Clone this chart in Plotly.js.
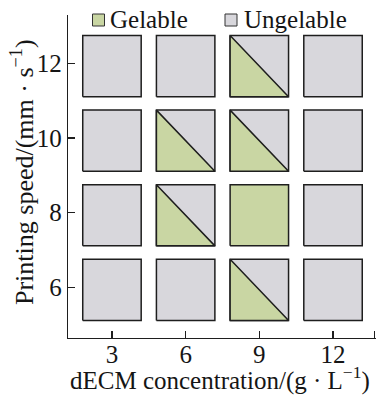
<!DOCTYPE html>
<html>
<head>
<meta charset="utf-8">
<script src="https://cdn.plot.ly/plotly-3.0.1.min.js"></script>
<style>html,body{margin:0;padding:0;background:#fff;}</style>
</head>
<body>
<div id="chart" style="width:376px;height:396px;"></div>
<script>
// ---- data ----
const concentrations = [3, 6, 9, 12];          // dECM concentration (g/L)
const speeds = [6, 8, 10, 12];                 // printing speed (mm/s)
// cell state per speed row, in concentration order: G = gelable, U = ungelable, P = partly gelable (split)
const speed6  = ['U', 'U', 'P', 'U'];
const speed8  = ['U', 'P', 'G', 'U'];
const speed10 = ['U', 'P', 'P', 'U'];
const speed12 = ['U', 'U', 'P', 'U'];
const xTickLabels = ['3', '6', '9', '12'];
const yTickLabels = ['6', '8', '10', '12'];
const legendLabels = ['Gelable', 'Ungelable'];
const xTitle = 'dECM concentration/(g · L<sup>−1</sup>)';
const yTitle = 'Printing speed/(mm · s<sup>−1</sup>)';

// ---- style ----
const GREEN = '#c9d6a3';
const GRAY = '#d8d7dc';
const EDGE = '#1e1e1e';
const FONT = 'Liberation Serif';
const TXT = '#151515';
const halfW = 1.19, halfH = 0.82, yShift = -0.07;

const rows = [speed6, speed8, speed10, speed12];
const traces = [];
rows.forEach((row, i) => {
  const s = speeds[i] + yShift;
  row.forEach((state, j) => {
    const c = concentrations[j];
    traces.push({
      type: 'scatter', mode: 'lines', fill: 'toself',
      x: [c - halfW, c + halfW, c + halfW, c - halfW, c - halfW],
      y: [s - halfH, s - halfH, s + halfH, s + halfH, s - halfH],
      fillcolor: state === 'G' ? GREEN : GRAY,
      line: {color: EDGE, width: 1.5},
      hoverinfo: 'skip', showlegend: false
    });
    if (state === 'P') {
      traces.push({
        type: 'scatter', mode: 'lines', fill: 'toself',
        x: [c - halfW, c - halfW, c + halfW, c - halfW],
        y: [s + halfH, s - halfH, s - halfH, s + halfH],
        fillcolor: GREEN,
        line: {color: EDGE, width: 1.5},
        hoverinfo: 'skip', showlegend: false
      });
    }
  });
});

const W = 376, H = 396, L = 68, R = 0, T = 15, B = 58;
const px = v => (v - L) / (W - L - R);
const py = v => (H - B - v) / (H - T - B);

const xRange = [1.21, 13.75], yRange = [4.64, 13.30];

const shapes = [
  {type: 'rect', xref: 'paper', yref: 'paper', x0: px(92.5), x1: px(104.5), y0: py(26), y1: py(14),
   fillcolor: GREEN, line: {color: '#333', width: 1}},
  {type: 'rect', xref: 'paper', yref: 'paper', x0: px(225), x1: px(237), y0: py(26), y1: py(14),
   fillcolor: GRAY, line: {color: '#333', width: 1}}
];

const annotations = [
  {xref: 'paper', yref: 'paper', x: px(108), y: py(20), xanchor: 'left', yanchor: 'middle',
   text: legendLabels[0], showarrow: false, font: {family: FONT, size: 25, color: TXT}},
  {xref: 'paper', yref: 'paper', x: px(242), y: py(20), xanchor: 'left', yanchor: 'middle',
   text: legendLabels[1], showarrow: false, font: {family: FONT, size: 25, color: TXT}},
  {xref: 'paper', yref: 'paper', x: px(220), y: py(379), xanchor: 'center', yanchor: 'middle',
   text: xTitle, showarrow: false, font: {family: FONT, size: 25, color: TXT}},
  {xref: 'paper', yref: 'paper', x: px(23), y: py(172), xanchor: 'center', yanchor: 'middle', textangle: -90,
   text: yTitle, showarrow: false, font: {family: FONT, size: 26, color: TXT}}
];

const layout = {
  width: W, height: H,
  margin: {l: L, r: R, t: T, b: B},
  paper_bgcolor: '#fff', plot_bgcolor: '#fff',
  showlegend: false,
  font: {family: FONT, color: TXT},
  xaxis: {
    range: xRange, tickmode: 'array',
    tickvals: concentrations, ticktext: xTickLabels,
    ticks: 'inside', ticklen: 7, tickwidth: 1.2, tickcolor: EDGE,
    ticklabelstandoff: -6,
    minor: {tickmode: 'array', tickvals: [13.7], ticks: 'inside', ticklen: 7, tickwidth: 1.2, tickcolor: EDGE, showgrid: false},
    showline: true, linecolor: EDGE, linewidth: 1.2,
    showgrid: false, zeroline: false, fixedrange: true,
    tickfont: {family: FONT, size: 25, color: TXT}
  },
  yaxis: {
    range: yRange, tickmode: 'array',
    tickvals: speeds, ticktext: yTickLabels,
    ticks: 'inside', ticklen: 7, tickwidth: 1.2, tickcolor: EDGE,
    minor: {tickmode: 'array', tickvals: [13.29], ticks: 'inside', ticklen: 7, tickwidth: 1.2, tickcolor: EDGE, showgrid: false},
    showline: true, linecolor: EDGE, linewidth: 1.2,
    showgrid: false, zeroline: false, fixedrange: true,
    tickfont: {family: FONT, size: 25, color: TXT}
  },
  shapes: shapes,
  annotations: annotations
};

Plotly.newPlot('chart', traces, layout, {displayModeBar: false, staticPlot: true});
</script>
</body>
</html>
